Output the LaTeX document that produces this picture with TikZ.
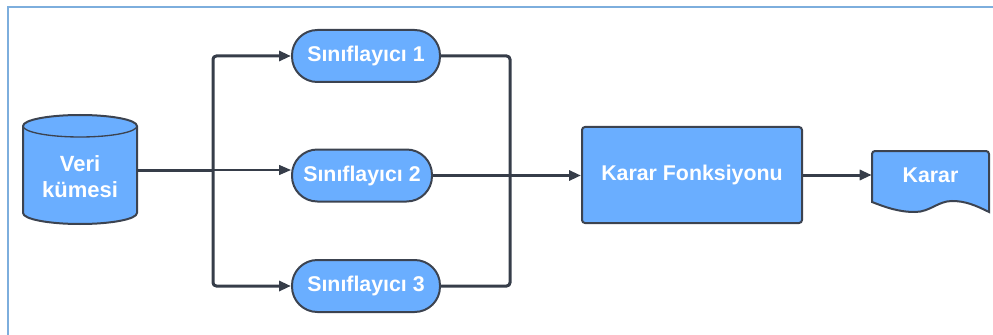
\documentclass[tikz,border=0pt]{standalone}
\usepackage{fontspec}
\setmainfont{Liberation Sans}
\usetikzlibrary{arrows.meta}
\definecolor{boxfill}{HTML}{6AAEFF}
\definecolor{boxline}{HTML}{3C4350}
\definecolor{wirecol}{HTML}{363D49}
\definecolor{framecol}{HTML}{7DAEDD}

\begin{document}
\begin{tikzpicture}[x=0.75pt,y=-0.75pt,
  lbl/.style={text=white, font=\bfseries\fontsize{16}{19.5}\selectfont},
  shapeline/.style={draw=boxline, line width=1.5pt, fill=boxfill},
  stadium/.style={shapeline, lbl, rounded corners=19pt, minimum height=39pt, inner sep=0pt},
  wire/.style={draw=wirecol, line width=2.25pt, rounded corners=2.5pt},
  thinwire/.style={draw=wirecol, line width=1pt},
  tip/.style={-{Triangle[length=9pt,width=7.5pt]}}
]
\useasboundingbox (0,0) rectangle (993,335);

% outer frame (open towards the right and bottom edges)
\draw[framecol, line width=1.5pt] (8,340) -- (8,7) -- (1000,7);

% data store: cylinder drawn by hand, node carries the anchors
\path[shapeline] (23,126) -- (23,213)
  arc[start angle=180, end angle=360, x radius=42.75pt, y radius=8.25pt]
  -- (137,126)
  arc[start angle=0, end angle=180, x radius=42.75pt, y radius=8.25pt] -- cycle;
\draw[boxline, line width=1pt] (23,126)
  arc[start angle=180, end angle=360, x radius=42.75pt, y radius=8.25pt];
\node[minimum width=85.5pt, minimum height=81.75pt, inner sep=0pt] (data) at (80,170) {};
\node[lbl, font=\bfseries\fontsize{16.5}{19.5}\selectfont, align=center] (datatext) at (80,177) {Veri\\kümesi};

% classifiers
\node[stadium, minimum width=111pt] (s1) at (366,56) {Sınıflayıcı 1};
\node[stadium, minimum width=105pt] (s2) at (362,175.5) {Sınıflayıcı 2};
\node[stadium, minimum width=111pt] (s3) at (366,286) {Sınıflayıcı 3};

% decision function
\node[shapeline, lbl, rounded corners=2.25pt, minimum width=165pt, minimum height=72pt,
      inner sep=0pt] (kf) at (692,175) {Karar Fonksiyonu};

% output document shape
\path[shapeline] (872,202) [rounded corners=2.25pt] -- (872,151) -- (989,151)
  [sharp corners] -- (989,212)
  .. controls (975,205) and (965,201) .. (952,201)
  .. controls (938,201) and (930,212) .. (915,212)
  .. controls (898,212) and (885,207) .. (872,202) -- cycle;
\node[lbl, minimum width=87.75pt, inner sep=0pt] (karar) at (930.5,175) {Karar};

% connectors
\coordinate (j) at (213,170);
\coordinate (m) at (510,175.5);
\draw[wire] (data.east) -- (j);
\draw[wire, tip] (j) |- (s1.west);
\draw[wire, tip] (j) |- (s3.west);
\draw[thinwire, tip] (j) -- (s2.west |- j);
\draw[wire] (s1.east) -| (m);
\draw[wire] (s3.east) -| (m);
\draw[wire, tip] (s2.east) -- (s2.east -| kf.west);
\draw[wire, tip] (kf.east) -- (karar.west);
\end{tikzpicture}
\end{document}
